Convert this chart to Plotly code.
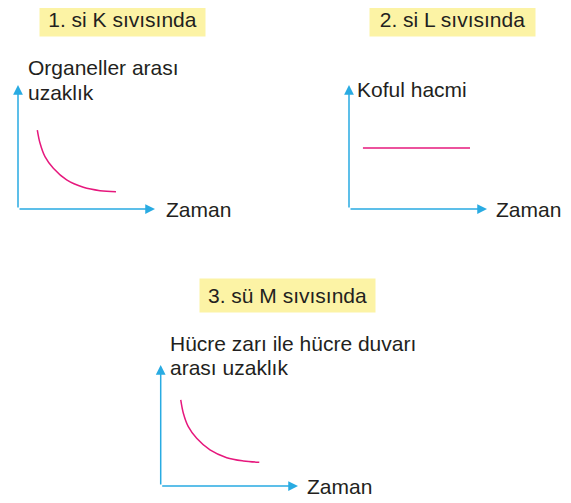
import plotly.graph_objects as go

# Panel titles and axis labels
Titles = ["1. si K sıvısında", "2. si L sıvısında", "3. sü M sıvısında"]
YLabels = [["Organeller arası", "uzaklık"], ["Koful hacmi"], ["Hücre zarı ile hücre duvarı", "arası uzaklık"]]
XLabel = "Zaman"

# Curves (axis units 0..10)
K_time = [1.41, 1.61, 1.97, 2.58, 3.55, 4.77, 5.99, 7.15]
K_dist = [6.37, 5.30, 4.22, 3.28, 2.34, 1.75, 1.48, 1.40]

L_time = [1.01, 8.77]
L_volume = [4.92, 4.92]

M_time = [1.46, 1.65, 2.01, 2.62, 3.59, 4.81, 6.02, 7.18]
M_dist = [7.11, 6.01, 4.90, 3.94, 2.98, 2.34, 2.07, 1.96]

# page body has an 8px margin, so the figure is a bit smaller than the window
OFF = 8
W, H = 571 - OFF, 503 - OFF
AxisBlue = "#29ABE2"
CurvePink = "#E6187D"
TitleYellow = "#FCF3A5"
TextColor = "#231F20"
FontName = "Liberation Sans, Arial, sans-serif"


def px(x):
    return (x - OFF) / W


def py(y):
    return 1 - (y - OFF) / H


fig = go.Figure()

# panel boxes in window pixels: left, right(arrow tip), bottom, top
panels = [
    (18, 155, 209, 85),
    (349, 487, 209, 85),
    (160.7, 298, 486, 365),
]
series = [(K_time, K_dist), (L_time, L_volume), (M_time, M_dist)]

for i, (xs, ys) in enumerate(series):
    ax_id = "" if i == 0 else str(i + 1)
    fig.add_trace(go.Scatter(x=xs, y=ys, mode="lines", line=dict(color=CurvePink, width=1.5, shape="spline"),
                             xaxis="x" + ax_id, yaxis="y" + ax_id, showlegend=False, hoverinfo="skip"))

layout = dict(width=W, height=H, margin=dict(l=0, r=0, t=0, b=0),
              paper_bgcolor="white", plot_bgcolor="white", showlegend=False)

annotations = []
for i, (left, right, bottom, top) in enumerate(panels):
    ax_id = "" if i == 0 else str(i + 1)
    axis_style = dict(range=[0, 10], showgrid=False, zeroline=False, showline=False,
                      showticklabels=False, ticks="", fixedrange=True)
    layout["xaxis" + ax_id] = dict(domain=[px(left), px(right)], anchor="y" + ax_id, **axis_style)
    layout["yaxis" + ax_id] = dict(domain=[py(bottom), py(top)], anchor="x" + ax_id, **axis_style)
    # arrow axes
    for tip in [(10, 0), (0, 10)]:
        annotations.append(dict(x=tip[0], y=tip[1], ax=0, ay=0, xref="x" + ax_id, yref="y" + ax_id,
                                axref="x" + ax_id, ayref="y" + ax_id, text="", showarrow=True,
                                arrowhead=2, arrowsize=1.3, arrowwidth=1.5, arrowcolor=AxisBlue, standoff=0))

font = dict(family=FontName, size=21, color=TextColor)

# title boxes: centre x, centre y, width
title_boxes = [(122.5, 19.5, 165), (452.5, 19.5, 165), (287.5, 295.5, 175)]
for t, (cx, cy, w) in zip(Titles, title_boxes):
    annotations.append(dict(x=px(cx), y=py(cy), xref="paper", yref="paper", text=t, showarrow=False,
                            xanchor="center", yanchor="middle", bgcolor=TitleYellow, width=w, height=33,
                            borderpad=0, font=font))

# y labels: left x, line centres
ylabel_pos = [(26, [67.5, 92.5]), (355, [90]), (168, [343.5, 367])]
for lines, (lx, cys) in zip(YLabels, ylabel_pos):
    for line, cy in zip(lines, cys):
        annotations.append(dict(x=px(lx), y=py(cy), xref="paper", yref="paper", text=line, showarrow=False,
                                xanchor="left", yanchor="middle", font=font))

# x labels
xlabel_pos = [(164, 209.5), (494, 209.5), (305, 486)]
for lx, cy in xlabel_pos:
    annotations.append(dict(x=px(lx), y=py(cy), xref="paper", yref="paper", text=XLabel, showarrow=False,
                            xanchor="left", yanchor="middle", font=font))

layout["annotations"] = annotations
fig.update_layout(**layout)

fig.write_html("out.html")
